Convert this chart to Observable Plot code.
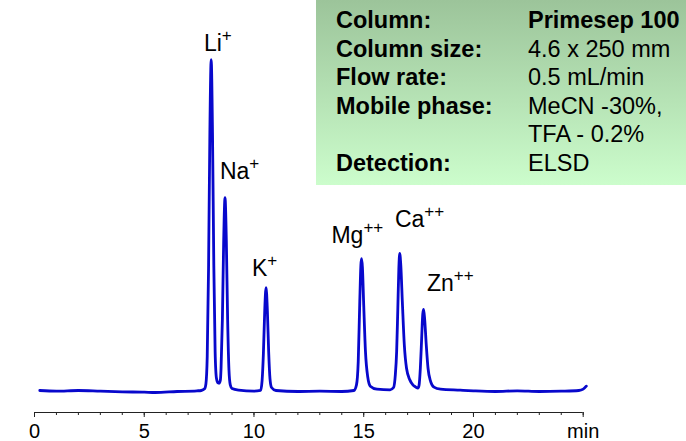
<!DOCTYPE html>
<html>
<head>
<meta charset="utf-8">
<script src="https://cdn.jsdelivr.net/npm/d3@7"></script>
<script src="https://cdn.jsdelivr.net/npm/@observablehq/plot@0.6"></script>
<style>
  html, body { margin: 0; padding: 0; background: #fff; }
  #wrap { position: relative; width: 686px; height: 441px; overflow: hidden; font-family: "Liberation Sans", Arial, sans-serif; }
  #info {
    position: absolute; left: 316px; top: 0; width: 370px; height: 185px;
    background: linear-gradient(to bottom, #9cc49a, #ccfdcc);
    box-sizing: border-box; padding: 6px 0 0 20px;
    font-size: 23.5px; line-height: 28.5px; color: #000;
    display: grid; grid-template-columns: 192px auto; align-content: start;
    white-space: nowrap;
  }
  #info .lab { font-weight: bold; }
  #info .bold { font-weight: bold; }
</style>
</head>
<body>
<div id="wrap"><div id="chart"></div><div id="info"></div></div>
<script>
// Chromatogram trace: time (min) and detector signal (relative units)
const traceTime = [0.24, 1, 2, 3, 4, 5, 5.5, 6.5, 7.4, 7.6, 7.75, 7.81, 7.87, 7.93, 7.99, 8.05, 8.11, 8.17, 8.23, 8.29, 8.36, 8.41,
  8.47, 8.5, 8.56, 8.62, 8.68, 8.74, 8.8, 8.86, 8.92, 9.0, 9.3, 10, 10.3, 10.37, 10.43, 10.49, 10.55, 10.61, 10.67, 10.73, 10.8, 11.0,
  12, 13, 14, 14.55, 14.67, 14.75, 14.82, 14.87, 14.9, 14.94, 15.0, 15.08, 15.18, 15.3, 15.6, 16.2, 16.36, 16.44, 16.5, 16.55,
  16.6, 16.64, 16.69, 16.76, 16.85, 16.95, 17.1, 17.24, 17.36, 17.47, 17.52, 17.58, 17.64, 17.69, 17.73, 17.78, 17.85, 17.93,
  18.05, 18.2, 18.5, 19.4, 20, 21, 22, 23, 24, 24.8, 25.0, 25.14];
const traceSignal = [0.3, 0.1, 0.3, 0.1, -0.1, -0.2, -0.3, 0, 0.2, 0.3, 0.8, 2.3, 10.6, 37, 78, 100, 78, 38, 12, 4, 2.6, 2.5,
  3.5, 7, 21.6, 45.5, 58.4, 45.5, 21.6, 6.5, 2, 0.9, 0.4, 0.1, 0.3, 3.3, 11.6, 24.4, 31.3, 24.4, 11.8, 3.8, 1.2, 0.3,
  0, 0.1, 0, 0.3, 2, 9, 27, 38, 40, 37.5, 26, 12, 4.5, 1.6, 0.7, 0.5, 1.2, 5, 12, 24,
  37, 41.6, 38, 27, 14, 7, 3.5, 2, 1.4, 1.0, 1.8, 7, 16, 23.3, 24.7, 21.5, 14, 7,
  3, 1.3, 0.7, 0.4, 0.2, 0, 0.2, 0, 0.1, 0.3, 0.7, 1.6];

// Peak labels
const ionNames   = ["Li", "Na", "K", "Mg", "Ca", "Zn"];
const ionCharges = ["+", "+", "+", "++", "++", "++"];
const labelTime  = [7.72, 8.45, 9.91, 13.53, 16.42, 17.88];
const labelLevel = [102.5, 63.9, 34.9, 44.6, 49.5, 30.2];

// Axis
const majorTicks = [0, 5, 10, 15, 20, 25];
const minorTicks = d3.range(0, 26, 1);
const tickText = ["0", "5", "10", "15", "20", "min"];
const xDomain = [0, 25];
const yDomain = [-6.33, 117.8];

// Conditions box
const infoLabels = ["Column:", "Column size:", "Flow rate:", "Mobile phase:", "", "Detection:"];
const infoValues = ["Primesep 100", "4.6 x 250 mm", "0.5 mL/min", "MeCN -30%,", "TFA - 0.2%", "ELSD"];

const trace = traceTime.map((t, i) => ({t, v: traceSignal[i]}));
const labels = ionNames.map((n, i) => ({x: labelTime[i], y: labelLevel[i], text: n + "|" + ionCharges[i]}));

const chart = Plot.plot({
  width: 686, height: 441,
  marginLeft: 34, marginRight: 103.3, marginTop: 0, marginBottom: 29,
  x: {domain: xDomain},
  y: {domain: yDomain, axis: null},
  style: {fontFamily: "'Liberation Sans', Arial, sans-serif", fontSize: "20px", color: "#000", background: "transparent"},
  marks: [
    Plot.ruleY([yDomain[0]], {stroke: "#222", strokeWidth: 1}),
    Plot.axisX({ticks: minorTicks, tickSize: 3, tickFormat: () => "", label: null, stroke: "#222"}),
    Plot.axisX({ticks: majorTicks, tickSize: 5, tickPadding: 6, label: null, stroke: "#222",
      tickFormat: d => tickText[majorTicks.indexOf(d)], fill: "#000"}),
    Plot.line(trace, {x: "t", y: "v", curve: "monotone-x", stroke: "#0808cc", strokeWidth: 2.8}),
    Plot.text(labels, {x: "x", y: "y", text: "text", textAnchor: "start", lineAnchor: "bottom", fontSize: 23, fill: "#000"})
  ]
});
document.getElementById("chart").appendChild(chart);

// superscript charges
d3.select(chart).selectAll('g[aria-label="text"] text').each(function() {
  const [base, sup] = this.textContent.split("|");
  this.textContent = base;
  d3.select(this).append("tspan").attr("dy", "-10").attr("font-size", 17).text(sup);
});

// conditions box
const info = d3.select("#info");
infoLabels.forEach((l, i) => {
  info.append("div").attr("class", "lab").text(l || "\u00a0");
  info.append("div").attr("class", i === 0 ? "bold" : "").text(infoValues[i]);
});
</script>
</body>
</html>
